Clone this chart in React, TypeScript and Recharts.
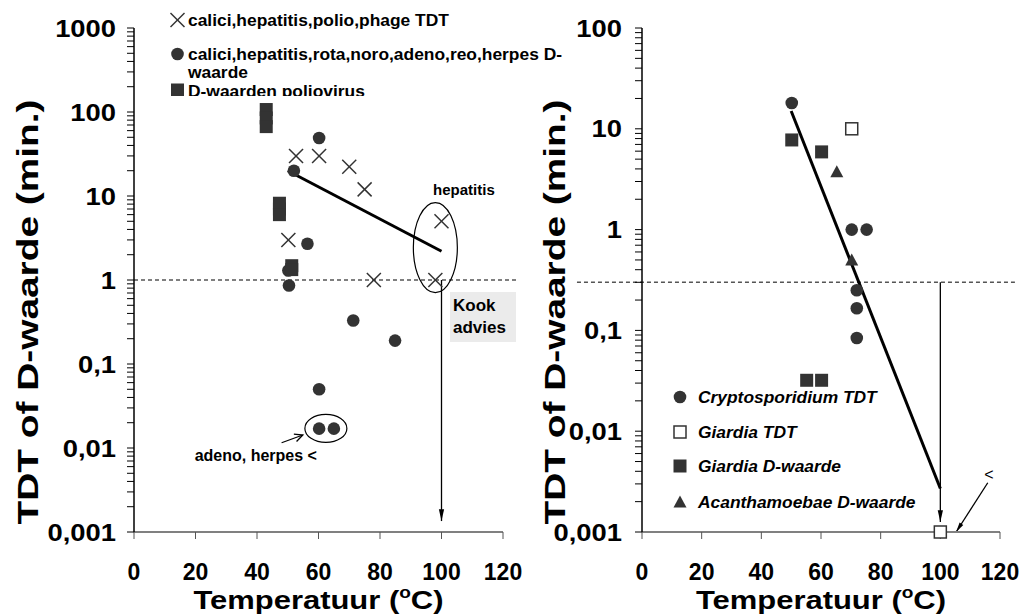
import React from 'react';
import { ScatterChart, Scatter, XAxis, YAxis, ReferenceLine, ReferenceDot } from 'recharts';

const FONT = '"Liberation Sans", Arial, Helvetica, sans-serif';
const INK = '#333333';

// ---------- axes ----------
const tempTicks = [0, 20, 40, 60, 80, 100, 120];
const leftMajorTicks = [0.001, 0.01, 0.1, 1, 10, 100, 1000];
const leftMajorLabels = ['0,001', '0,01', '0,1', '1', '10', '100', '1000'];
const rightMajorTicks = [0.001, 0.01, 0.1, 1, 10, 100];
const rightMajorLabels = ['0,001', '0,01', '0,1', '1', '10', '100'];
const minorSteps = [2, 3, 4, 5, 6, 7, 8, 9];

// ---------- left panel: virussen ----------
const virusTdtTemp = [52.7, 60.2, 70, 75, 50.2, 78, 98, 100];
const virusTdtMin = [30, 30, 22.3, 12, 3, 1, 1, 5];

const virusDTemp = [60.2, 52, 56.4, 50.2, 50.4, 71.3, 84.9, 60.2, 60.2, 65];
const virusDMin = [49, 20, 2.7, 1.3, 0.86, 0.33, 0.19, 0.05, 0.017, 0.017];

const polioDTemp = [43, 43, 43, 47.3, 47.3, 47.3, 51.3, 51.3];
const polioDMin = [107, 85, 67, 8.2, 7, 6, 1.48, 1.33];

const virusTrendTemp = [50, 100];
const virusTrendMin = [20, 2.2];
const virusLimit = 1;
const virusBoilTemp = 100;
const virusArrowMin = [1, 0.00135];

// ---------- right panel: protozoa ----------
const cryptoTemp = [50.2, 70.3, 75.3, 72, 72, 72];
const cryptoMin = [18, 1, 1, 0.25, 0.166, 0.084];
const giardiaTdtTemp = [70.3, 100];
const giardiaTdtMin = [10, 0.001];
const giardiaDTemp = [50.2, 60.2, 55.2, 60.2];
const giardiaDMin = [7.75, 5.9, 0.032, 0.032];
const acanthTemp = [65.3, 70.3];
const acanthMin = [3.75, 0.5];

const protoTrendTemp = [50, 100];
const protoTrendMin = [15, 0.0027];
const protoLimit = 0.3;
const protoArrowMin = [0.3, 0.00126];

const zip = (xs: number[], ys: number[]) => xs.map((x, i) => ({ x, y: ys[i] }));
const logTicks = (majors: number[]) => {
  const out: number[] = [];
  majors.forEach((m, i) => {
    out.push(m);
    if (i < majors.length - 1) minorSteps.forEach((s) => out.push(+(m * s).toPrecision(6)));
  });
  return out;
};

const virusTdt = zip(virusTdtTemp, virusTdtMin);
const virusD = zip(virusDTemp, virusDMin);
const polioD = zip(polioDTemp, polioDMin);
const crypto = zip(cryptoTemp, cryptoMin);
const giardiaTdt = zip(giardiaTdtTemp, giardiaTdtMin);
const giardiaD = zip(giardiaDTemp, giardiaDMin);
const acanth = zip(acanthTemp, acanthMin);

// ---------- shapes ----------
const CrossShape = (p: any) => {
  const { cx, cy } = p;
  const s = 7;
  return (
    <g stroke={INK} strokeWidth={1.5}>
      <line x1={cx - s} y1={cy - s} x2={cx + s} y2={cy + s} />
      <line x1={cx - s} y1={cy + s} x2={cx + s} y2={cy - s} />
    </g>
  );
};
const CircleShape = (p: any) => <circle cx={p.cx} cy={p.cy} r={6.3} fill={INK} />;
const SquareShape = (p: any) => <rect x={p.cx - 6.5} y={p.cy - 6.5} width={13} height={13} fill={INK} />;
const OpenSquareShape = (p: any) => (
  <rect x={p.cx - 6} y={p.cy - 6} width={12} height={12} fill="#fff" stroke={INK} strokeWidth={1.5} />
);
const TriangleShape = (p: any) => (
  <polygon points={`${p.cx},${p.cy - 6.5} ${p.cx + 6.5},${p.cy + 5.5} ${p.cx - 6.5},${p.cy + 5.5}`} fill={INK} />
);

const arrow = (filled: boolean, len: number) => (props: any) => {
  const { x1, y1, x2, y2 } = props;
  const ang = Math.atan2(y2 - y1, x2 - x1);
  const h = filled ? 0.22 : 0.45;
  const a = [x2 - len * Math.cos(ang - h), y2 - len * Math.sin(ang - h)];
  const b = [x2 - len * Math.cos(ang + h), y2 - len * Math.sin(ang + h)];
  return (
    <g>
      <line x1={x1} y1={y1} x2={x2} y2={y2} stroke="#000" strokeWidth={1.3} />
      {filled ? (
        <polygon points={`${x2},${y2} ${a[0]},${a[1]} ${b[0]},${b[1]}`} fill="#000" />
      ) : (
        <polyline points={`${a[0]},${a[1]} ${x2},${y2} ${b[0]},${b[1]}`} fill="none" stroke="#000" strokeWidth={1.3} />
      )}
    </g>
  );
};

const ellipse = (rx: number, ry: number) => (p: any) => (
  <ellipse cx={p.cx} cy={p.cy} rx={rx} ry={ry} fill="none" stroke="#000" strokeWidth={1.2} />
);

const textShape = (txt: string, size: number, weight: number, anchor: string) => (p: any) => (
  <text x={p.cx} y={p.cy + size * 0.36} textAnchor={anchor} fontFamily={FONT} fontSize={size} fontWeight={weight} fill="#000">
    {txt}
  </text>
);

const KookShape = (p: any) => (
  <g>
    <rect x={p.cx - 33} y={p.cy - 25} width={66} height={50} fill="#ebebeb" />
    <text x={p.cx - 30} y={p.cy - 6} fontFamily={FONT} fontSize={17} fontWeight={700} fill="#000">Kook</text>
    <text x={p.cx - 30} y={p.cy + 16} fontFamily={FONT} fontSize={17} fontWeight={700} fill="#000">advies</text>
  </g>
);

// ---------- ticks / titles ----------
const labelWidth = (s: string, fs: number) =>
  s.split('').reduce((w, ch) => w + (ch === ',' ? 0.278 : 0.556), 0) * fs;

const makeYTick = (majors: number[], labels: string[]) => (props: any) => {
  const { x, y, payload } = props;
  const idx = majors.findIndex((m) => Math.abs(m - payload.value) < m * 1e-6);
  if (idx < 0) return <g />;
  const fs = 24;
  return (
    <text x={x} y={y} dy={8.5} textAnchor="end" fontFamily={FONT} fontSize={fs} fontWeight={700} fill="#000"
      textLength={labelWidth(labels[idx], fs) * 1.14} lengthAdjust="spacingAndGlyphs">
      {labels[idx]}
    </text>
  );
};
const XTick = (props: any) => (
  <text x={props.x} y={props.y} dy={39} textAnchor="middle" fontFamily={FONT} fontSize={23} fontWeight={700} fill="#000">
    {props.payload.value}
  </text>
);
const XTitle = (props: any) => {
  const vb = props.viewBox;
  return (
    <text x={vb.x + vb.width / 2} y={vb.y + 77} textAnchor="middle" fontFamily={FONT} fontSize={26} fontWeight={700} fill="#000"
      textLength={250} lengthAdjust="spacingAndGlyphs">
      <tspan>Temperatuur (</tspan>
      <tspan fontSize={16} dy={-11}>o</tspan>
      <tspan dy={11}>C)</tspan>
    </text>
  );
};
const makeYTitle = (bx: number) => (props: any) => {
  const vb = props.viewBox;
  const x = vb.x + bx;
  const y = 312;
  return (
    <text x={x} y={y} transform={`rotate(-90 ${x} ${y})`} textAnchor="middle" fontFamily={FONT} fontSize={29} fontWeight={700} fill="#000"
      textLength={425} lengthAdjust="spacingAndGlyphs">
      TDT of D-waarde (min.)
    </text>
  );
};

const leftTicks = logTicks(leftMajorTicks);
const rightTicks = logTicks(rightMajorTicks);

const legendText = { fontFamily: FONT, fontSize: 17.4, fontWeight: 700, fill: '#000' } as const;

export default function App() {
  return (
    <div style={{ position: 'absolute', left: 0, top: 0, width: 1024, height: 614, background: '#fff', overflow: 'hidden' }}>
      <div style={{ position: 'absolute', left: 0, top: 0 }}>
        <ScatterChart width={545} height={614} margin={{ top: 28, right: 42, bottom: 0, left: 0 }}>
          <XAxis type="number" dataKey="x" domain={[0, 120]} ticks={tempTicks} interval={0} height={82} tickSize={7} tickMargin={2}
            tick={XTick} axisLine={{ stroke: '#808080', strokeWidth: 2 }} tickLine={{ stroke: '#555' }} label={XTitle} />
          <YAxis type="number" dataKey="y" scale="log" domain={[0.001, 1000]} ticks={leftTicks} interval={0} width={134} tickSize={7}
            tickMargin={11} tick={makeYTick(leftMajorTicks, leftMajorLabels)} axisLine={{ stroke: '#000', strokeWidth: 1.5 }}
            tickLine={{ stroke: '#000' }} label={makeYTitle(38)} />
          <ReferenceLine segment={[{ x: 0, y: virusLimit }, { x: 125, y: virusLimit }]} ifOverflow="visible" stroke="#555" strokeWidth={1.5} strokeDasharray="4 3" />
          <ReferenceLine segment={[{ x: virusBoilTemp, y: virusArrowMin[0] }, { x: virusBoilTemp, y: virusArrowMin[1] }]} ifOverflow="visible" shape={arrow(true, 12)} />
          <ReferenceLine segment={[{ x: virusTrendTemp[0], y: virusTrendMin[0] }, { x: virusTrendTemp[1], y: virusTrendMin[1] }]} ifOverflow="visible" stroke="#000" strokeWidth={3} />
          <ReferenceDot x={113.5} y={0.363} ifOverflow="visible" shape={KookShape} />
          <ReferenceDot x={98} y={2.43} ifOverflow="visible" shape={ellipse(22, 45)} />
          <ReferenceDot x={107.3} y={11.8} ifOverflow="visible" shape={textShape('hepatitis', 15, 700, 'middle')} />
          <ReferenceDot x={62.4} y={0.0171} ifOverflow="visible" shape={ellipse(21, 14)} />
          <ReferenceDot x={39.6} y={0.0083} ifOverflow="visible" shape={textShape('adeno, herpes <', 16, 700, 'middle')} />
          <ReferenceLine segment={[{ x: 48, y: 0.01155 }, { x: 54.9, y: 0.01428 }]} ifOverflow="visible" shape={arrow(false, 9)} />
          <Scatter data={virusTdt} shape={CrossShape} isAnimationActive={false} />
          <Scatter data={virusD} shape={CircleShape} isAnimationActive={false} />
          <Scatter data={polioD} shape={SquareShape} isAnimationActive={false} />
        </ScatterChart>
      </div>
      <div style={{ position: 'absolute', left: 520, top: 0 }}>
        <ScatterChart width={504} height={614} margin={{ top: 28, right: 24, bottom: 0, left: 0 }}>
          <XAxis type="number" dataKey="x" domain={[0, 120]} ticks={tempTicks} interval={0} height={82} tickSize={7} tickMargin={2}
            tick={XTick} axisLine={{ stroke: '#808080', strokeWidth: 2 }} tickLine={{ stroke: '#555' }} label={XTitle} />
          <YAxis type="number" dataKey="y" scale="log" domain={[0.001, 100]} ticks={rightTicks} interval={0} width={122} tickSize={7}
            tickMargin={13} tick={makeYTick(rightMajorTicks, rightMajorLabels)} axisLine={{ stroke: '#000', strokeWidth: 1.5 }}
            tickLine={{ stroke: '#000' }} label={makeYTitle(45)} />
          <ReferenceLine segment={[{ x: -21.8, y: protoLimit }, { x: 125, y: protoLimit }]} ifOverflow="visible" stroke="#555" strokeWidth={1.5} strokeDasharray="4 3" />
          <ReferenceLine segment={[{ x: 100, y: protoArrowMin[0] }, { x: 100, y: protoArrowMin[1] }]} ifOverflow="visible" shape={arrow(true, 12)} />
          <ReferenceLine segment={[{ x: protoTrendTemp[0], y: protoTrendMin[0] }, { x: protoTrendTemp[1], y: protoTrendMin[1] }]} ifOverflow="visible" stroke="#000" strokeWidth={3} />
          <ReferenceDot x={116.3} y={0.00376} ifOverflow="visible" shape={textShape('<', 16, 400, 'middle')} />
          <ReferenceLine segment={[{ x: 115.9, y: 0.00308 }, { x: 105.3, y: 0.001 }]} ifOverflow="visible" shape={arrow(true, 10)} />
          <Scatter data={crypto} shape={CircleShape} isAnimationActive={false} />
          <Scatter data={giardiaD} shape={SquareShape} isAnimationActive={false} />
          <Scatter data={acanth} shape={TriangleShape} isAnimationActive={false} />
          <Scatter data={giardiaTdt} shape={OpenSquareShape} isAnimationActive={false} />
        </ScatterChart>
      </div>
      <svg width={1024} height={614} style={{ position: 'absolute', left: 0, top: 0, pointerEvents: 'none' }}>
        <defs>
          <clipPath id="legClip">
            <rect x={150} y={0} width={450} height={96} />
          </clipPath>
        </defs>
        <g clipPath="url(#legClip)">
          <CrossShape cx={177.5} cy={20} />
          <text x={188} y={26} {...legendText}>calici,hepatitis,polio,phage TDT</text>
          <CircleShape cx={177.5} cy={54} />
          <text x={188} y={60} {...legendText}>calici,hepatitis,rota,noro,adeno,reo,herpes D-</text>
          <text x={188} y={78} {...legendText}>waarde</text>
          <SquareShape cx={177.5} cy={90} />
          <text x={188} y={97} {...legendText}>D-waarden poliovirus</text>
        </g>
        <g>
          <CircleShape cx={680} cy={397} />
          <text x={698} y={403} {...legendText} fontStyle="italic">Cryptosporidium TDT</text>
          <OpenSquareShape cx={680} cy={432} />
          <text x={698} y={438} {...legendText} fontStyle="italic">Giardia TDT</text>
          <SquareShape cx={680} cy={466} />
          <text x={698} y={472} {...legendText} fontStyle="italic">Giardia D-waarde</text>
          <TriangleShape cx={680} cy={502} />
          <text x={698} y={508} {...legendText} fontStyle="italic">Acanthamoebae D-waarde</text>
        </g>
      </svg>
    </div>
  );
}
